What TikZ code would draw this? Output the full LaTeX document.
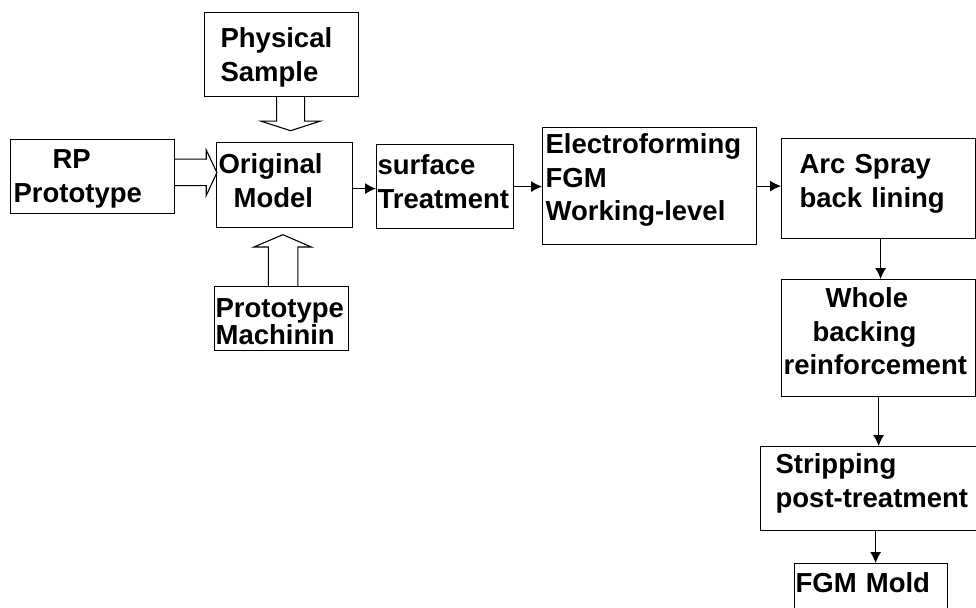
\documentclass[tikz,border=0pt]{standalone}
\usepackage{fontspec}
\setmainfont{Liberation Sans}
\usetikzlibrary{arrows.meta}

\begin{document}
\begin{tikzpicture}[x=1pt, y=-1pt, line width=1.2pt,
	box/.style={draw, anchor=north west, inner ysep=0pt, align=left,
		font=\fontsize{27.5}{33.5}\selectfont\bfseries},
	link/.style={line width=1pt, -{Latex[length=11pt,width=11pt]}},
	hollow/.style={line width=1.1pt, line join=miter}]
	\useasboundingbox (0,0) rectangle (976,607);
	\node[box, inner xsep=16pt, text width=122pt, text height=35pt, text depth=49pt] (phys) at (204,12) {Physical\\Sample};
	\node[box, inner xsep=3pt, text width=158pt, text height=29pt, text depth=45pt] (rp) at (10,139) {\hspace*{39pt}RP\\Prototype};
	\node[box, inner xsep=2pt, text width=132pt, text height=31pt, text depth=54pt] (orig) at (216,142) {Original\\\hspace*{15pt}Model};
	\node[box, inner xsep=1pt, text width=132pt, text height=31pt, text depth=33pt] (proto) at (214,286) {Prototype\\[-7pt]Machinin};
	\node[box, inner xsep=1pt, text width=135pt, text height=30pt, text depth=54pt] (surf) at (376,144) {surface\\Treatment};
	\node[box, inner xsep=3pt, text width=208pt, text height=26pt, text depth=91pt] (elec) at (542,127) {Electroforming\\FGM\\Working-level};
	\node[box, inner xsep=18pt, text width=158pt, text height=35pt, text depth=65pt] (arc) at (781,138) {Arc Spray\\back lining};
	\node[box, inner xsep=2pt, text width=190pt, text height=28pt, text depth=89pt] (whole) at (781,279) {\hspace*{42pt}Whole\\\hspace*{29pt}backing\\reinforcement};
	\node[box, inner xsep=15pt, text width=194pt, text height=27pt, text depth=57pt] (strip) at (760,446) {Stripping\\post-treatment};
	\node[box, inner xsep=1pt, text width=151pt, text height=29pt, text depth=60pt] (fgm) at (794,563) {FGM Mold};

	\draw[hollow] (phys.south) ++(-5,0) -- ++(0,24) -- ++(-15.5,0) -- ++(29.5,9.5) -- ++(29.5,-9.5) -- ++(-15.5,0) -- ++(0,-24);
	\draw[hollow] (rp.east) ++(0,-17.5) -- ++(31,0) -- ++(0,-9.2) -- ++(10.7,22.7) -- ++(-10.7,23) -- ++(0,-10) -- ++(-31,0);
	\draw[hollow] (proto.north) ++(-13.3,0) -- ++(0,-39) -- ++(-14.4,0) -- ++(29,-12.3) -- ++(28.4,12.3) -- ++(-13.4,0) -- ++(0,39);

	\draw[link] ([yshift=-3.5pt]orig.east) -- ([yshift=-3.5pt]orig.east -| surf.west);
	\draw[link] (surf.east) -- (surf.east -| elec.west);
	\draw[link] (elec.east) -- (elec.east -| arc.west);
	\draw[link] ([xshift=2pt]arc.south) -- ([xshift=2pt]arc.south |- whole.north);
	\draw[link] (whole.south) -- (whole.south |- strip.north);
	\draw[link] ([xshift=3pt]strip.south) -- ([xshift=3pt]strip.south |- fgm.north);
\end{tikzpicture}
\end{document}
